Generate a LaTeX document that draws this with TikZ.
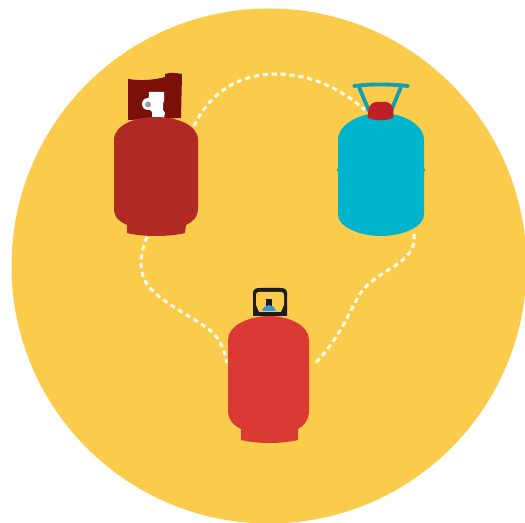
\documentclass[tikz,border=0pt]{standalone}
\usepackage{tikz}
\definecolor{bgyellow}{RGB}{251,204,76}
\definecolor{tankred}{RGB}{178,42,36}
\definecolor{tankdark}{RGB}{122,16,8}
\definecolor{tankteal}{RGB}{0,180,204}
\definecolor{tanktealdk}{RGB}{20,160,180}
\definecolor{capred}{RGB}{190,32,40}
\definecolor{tankcoral}{RGB}{218,58,52}
\definecolor{valveblue}{RGB}{60,150,215}
\definecolor{valvegrey}{RGB}{150,160,160}
\definecolor{collarblack}{RGB}{28,28,28}
\tikzset{
  gasroute/.style={white!92!bgyellow,line width=1.7pt,dash pattern=on 2.9pt off 2.2pt},
}
\begin{document}
\begin{tikzpicture}[x=0.02cm,y=-0.02cm]
  \useasboundingbox (0,0) rectangle (525,523);
  \fill[white] (0,0) rectangle (525,523);
  \begin{scope}
    \clip (0,0) rectangle (525,523);
    \fill[bgyellow] (269,266) circle (257.5);
  \end{scope}
  \coordinate (redtop) at (194,126);
  \coordinate (redfoot) at (147,237);
  \coordinate (tealtop) at (365,110);
  \coordinate (tealfoot) at (414,234);
  \coordinate (coralleft) at (227,363);
  \coordinate (coralright) at (314,364);
  \draw[gasroute] (redtop) .. controls (212,88) and (245,74) .. (275,74)
    .. controls (310,74) and (340,88) .. (tealtop);
  \draw[gasroute] (redfoot) .. controls (138,258) and (139,278) .. (152,290)
    .. controls (170,308) and (196,318) .. (212,332)
    .. controls (220,339) and (225,352) .. (coralleft);
  \draw[gasroute] (tealfoot) .. controls (416,250) and (406,259) .. (390,269)
    .. controls (376,278) and (367,283) .. (360,294)
    .. controls (350,310) and (345,325) .. (332,343)
    .. controls (327,350) and (320,359) .. (coralright);
  \fill[tankdark] (128,79) .. controls (140,81) and (155,80) .. (165,77)
    -- (165,74) .. controls (170,72) and (177,73) .. (182,74) -- (181,118) -- (128,120) -- cycle;
  \fill[white] (149,92) -- (164,92) -- (164,101) -- (163,104) -- (163,110) -- (165,113)
    -- (164,118) -- (152,118) -- (152,112) -- (148,108) -- cycle;
  \fill[white] (148,104) circle (6);
  \fill[valvegrey] (148,104.5) circle (3);
  \fill[tankred] (114,140) .. controls (114,125) and (135,117) .. (156,117)
    .. controls (177,117) and (198,125) .. (198,140) -- (198,208)
    .. controls (198,218) and (192,222) .. (186,225) -- (185,233)
    .. controls (170,237) and (142,237) .. (127,233) -- (127,225)
    .. controls (120,222) and (114,218) .. (114,208) -- cycle;
  \draw[tanktealdk,line width=2.2pt,line cap=round] (354,86) .. controls (370,84) and (390,84) .. (408,86);
  \draw[tanktealdk,line width=2.2pt] (359,87) -- (369,111);
  \draw[tanktealdk,line width=2.2pt] (401,87) -- (391,111);
  \fill[tankteal] (338,140) .. controls (338,124) and (360,113) .. (381,113)
    .. controls (402,113) and (424,124) .. (424,140) -- (424,215)
    .. controls (424,227) and (402,236) .. (381,236)
    .. controls (360,236) and (338,227) .. (338,215) -- cycle;
  \fill[tankteal] (338.8,170) circle (2);
  \fill[tankteal] (423.2,170) circle (2);
  \fill[capred] (368,118) .. controls (367,108) and (371,102) .. (376,102) -- (386,102)
    .. controls (391,102) and (395,108) .. (393,118) .. controls (385,121) and (376,121) .. (368,118) -- cycle;
  \fill[collarblack] (253,316) -- (253,293) .. controls (253,289) and (256,288) .. (260,288)
    -- (280,288) .. controls (284,288) and (287,289) .. (287,293) -- (287,316) -- cycle;
  \fill[bgyellow] (259,312) -- (256,305) -- (256,295) .. controls (256,293) and (257,292) .. (259,292)
    -- (281,292) .. controls (283,292) and (284,293) .. (284,295) -- (284,305) -- (281,312) -- cycle;
  \fill[collarblack] (266,299) rectangle (272,307);
  \fill[valveblue] (262,311) .. controls (263,307) and (266,305) .. (269,305)
    .. controls (272,305) and (275,307) .. (276,311) -- cycle;
  \fill[tankcoral] (228,340) .. controls (228,325) and (250,316) .. (269,316)
    .. controls (288,316) and (309,325) .. (309,340) -- (309,410)
    .. controls (309,420) and (304,426) .. (298,429) -- (298,440)
    .. controls (280,444) and (258,444) .. (241,440) -- (241,429)
    .. controls (234,426) and (228,420) .. (228,410) -- cycle;
\end{tikzpicture}
\end{document}
